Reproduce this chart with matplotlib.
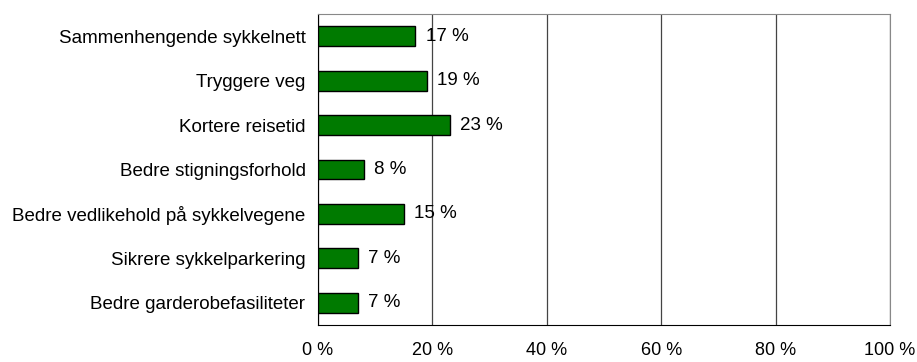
import matplotlib
matplotlib.use("Agg")
import matplotlib.pyplot as plt
from matplotlib.ticker import FuncFormatter

labels = ["Sammenhengende sykkelnett", "Tryggere veg", "Kortere reisetid",
          "Bedre stigningsforhold", "Bedre vedlikehold på sykkelvegene",
          "Sikrere sykkelparkering", "Bedre garderobefasiliteter"]
values = [17, 19, 23, 8, 15, 7, 7]

plt.rcParams['font.family'] = ['Liberation Sans', 'DejaVu Sans']

fig = plt.figure(figsize=(9.17, 3.62), dpi=100)
ax = fig.add_axes([318/917, 1-325/362, 572/917, 311/362])

pos = list(range(len(labels)))[::-1]
ax.barh(pos, values, height=0.45, color='#007A00', edgecolor='black', linewidth=1, zorder=3)
for p, v in zip(pos, values):
    ax.text(v + 1.8, p, f"{v} %", va='center', ha='left', fontsize=13.5, zorder=4)

ax.set_xlim(0, 100)
ax.set_ylim(-0.5, len(labels) - 0.5)
ax.set_yticks(pos)
ax.set_yticklabels(labels, fontsize=13.5)
ax.set_xticks([0, 20, 40, 60, 80, 100])
ax.xaxis.set_major_formatter(FuncFormatter(lambda x, _: f"{int(x)} %"))
ax.tick_params(axis='x', labelsize=13, length=0, pad=12)
ax.tick_params(axis='y', length=0, pad=9)
ax.grid(axis='x', color='#444444', linewidth=0.9, zorder=0)
ax.spines['left'].set_color('black')
ax.spines['bottom'].set_color('black')
ax.spines['top'].set_color('#888888')
ax.spines['right'].set_color('#888888')

fig.savefig("out.png", dpi=100)
